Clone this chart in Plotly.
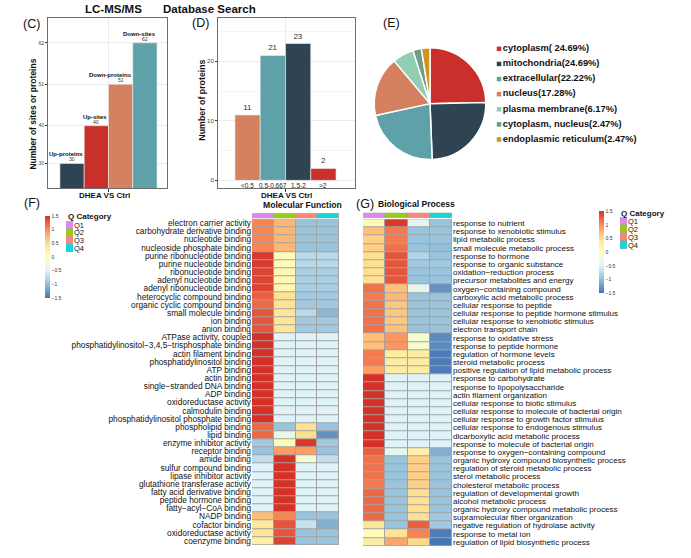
import plotly.graph_objects as go

W, H = 691, 558
FONT = "Liberation Sans, Arial, sans-serif"


def fx(px):
    return px / W


def fy(py):
    return 1 - py / H


# ---------------- data ----------------
# Panel C
c_names = ["Up-proteins", "Up-sites", "Down-proteins", "Down-sites"]
c_values = [30, 40, 51, 62]
c_colors = ["#2E4452", "#C9302C", "#D5805F", "#5FA1A9"]

# Panel D
d_bins = ["<0.5", "0.5-0.667", "1.5-2", ">2"]
d_values = [11, 21, 23, 2]
d_colors = ["#D5805F", "#5FA1A9", "#2E4452", "#C9302C"]

# Panel E
e_labels = ["cytoplasm", "mitochondria", "extracellular", "nucleus",
            "plasma membrane", "cytoplasm, nucleus", "endoplasmic reticulum"]
e_values = [24.69, 24.69, 22.22, 17.28, 6.17, 2.47, 2.47]
e_legend = ["cytoplasm( 24.69%)", "mitochondria(24.69%)", "extracellular(22.22%)",
            "nucleus(17.28%)", "plasma membrane(6.17%)", "cytoplasm, nucleus(2.47%)",
            "endoplasmic reticulum(2.47%)"]
e_colors = ["#C9302C", "#2E4452", "#5FA1A9", "#D5805F", "#93CDB3", "#6C9E83", "#D8901E"]

# Q categories
q_names = ["Q1", "Q2", "Q3", "Q4"]
q_colors = ["#DD88EE", "#99CC11", "#F8877B", "#14D5DB"]

# Panel F (Molecular Function)
f_terms = [
    "electron carrier activity", "carbohydrate derivative binding", "nucleotide binding",
    "nucleoside phosphate binding", "purine ribonucleotide binding", "purine nucleotide binding",
    "ribonucleotide binding", "adenyl nucleotide binding", "adenyl ribonucleotide binding",
    "heterocyclic compound binding", "organic cyclic compound binding", "small molecule binding",
    "ion binding", "anion binding", "ATPase activity, coupled",
    "phosphatidylinositol\u22123,4,5\u2212trisphosphate binding", "actin filament binding",
    "phosphatidylinositol binding", "ATP binding", "actin binding",
    "single\u2212stranded DNA binding", "ADP binding", "oxidoreductase activity",
    "calmodulin binding", "phosphatidylinositol phosphate binding", "phospholipid binding",
    "lipid binding", "enzyme inhibitor activity", "receptor binding", "amide binding",
    "sulfur compound binding", "lipase inhibitor activity", "glutathione transferase activity",
    "fatty acid derivative binding", "peptide hormone binding", "fatty\u2212acyl\u2212CoA binding",
    "NADP binding", "cofactor binding", "oxidoreductase activity", "coenzyme binding"]
f_q1 = [1.05, 1.05, 1.05, 1.05, 1.45, 1.45, 1.4, 1.4, 1.4, 1.25,
        1.2, 1.3, 1.3, 1.3, 1.5, 1.5, 1.5, 1.5, 1.5, 1.5,
        1.5, 1.5, 1.5, 1.5, 1.5, 1.2, 1.2, -0.9, -0.95, -0.7,
        -0.5, -0.5, -0.5, -0.5, -0.5, -0.5, 0.7, 0.35, 0.4, 0.25]
f_q2 = [0.75, 0.75, 0.75, 0.75, 0.08, 0.08, 0.12, 0.12, 0.15, 0.45,
        0.45, 0.4, 0.4, 0.4, -0.5, -0.5, -0.5, -0.5, -0.5, -0.5,
        -0.5, -0.5, -0.5, -0.5, -0.5, -0.95, -0.35, 0.05, 0.9, 1.5,
        1.5, 1.5, 1.5, 1.5, 1.5, 1.5, 1.05, 1.3, 1.3, 1.4]
f_q3 = [-0.95, -0.95, -0.95, -0.95, -0.75, -0.75, -0.85, -0.85, -0.85, -0.9,
        -0.9, -0.75, -0.9, -0.9, -0.5, -0.5, -0.5, -0.5, -0.5, -0.5,
        -0.5, -0.5, -0.5, -0.5, -0.5, 0.5, 0.5, 1.45, 0.9, -0.15,
        -0.5, -0.5, -0.5, -0.5, -0.5, -0.5, -0.95, -0.65, -0.95, -0.95]
f_q4 = [-0.95, -0.95, -0.95, -0.95, -0.75, -0.75, -0.85, -0.85, -0.85, -0.9,
        -0.9, -1.05, -0.9, -0.9, -0.5, -0.5, -0.5, -0.5, -0.5, -0.5,
        -0.5, -0.5, -0.5, -0.5, -0.5, -0.95, -1.3, -0.9, -0.95, -0.7,
        -0.5, -0.5, -0.5, -0.5, -0.5, -0.5, -0.95, -1.1, -0.95, -0.95]

# Panel G (Biological Process)
g_terms = [
    "response to nutrient", "response to xenobiotic stimulus", "lipid metabolic process",
    "small molecule metabolic process", "response to hormone", "response to organic substance",
    "oxidation\u2212reduction process", "precursor metabolites and energy",
    "oxygen\u2212containing compound", "carboxylic acid metabolic process",
    "cellular response to peptide", "cellular response to peptide hormone stimulus",
    "cellular response to xenobiotic stimulus", "electron transport chain",
    "response to oxidative stress", "response to peptide hormone",
    "regulation of hormone levels", "steroid metabolic process",
    "positive regulation of lipid metabolic process", "response to carbohydrate",
    "response to lipopolysaccharide", "actin filament organization",
    "cellular response to biotic stimulus", "cellular response to molecule of bacterial origin",
    "cellular response to growth factor stimulus", "cellular response to endogenous stimulus",
    "dicarboxylic acid metabolic process", "response to molecule of bacterial origin",
    "response to oxygen\u2212containing compound", "organic hydroxy compound biosynthetic process",
    "regulation of steroid metabolic process", "sterol metabolic process",
    "cholesterol metabolic process", "regulation of developmental growth",
    "alcohol metabolic process", "organic hydroxy compound metabolic process",
    "supramolecular fiber organization", "negative regulation of hydrolase activity",
    "response to metal ion", "regulation of lipid biosynthetic process"]
g_q1 = [0.1, 0.7, 0.6, 0.6, 0.5, 0.5, 0.5, 0.5, 1.15, 1.1,
        1.15, 1.15, 1.15, 1.15, 0.7, 0.7, 1.1, 1.1, 0.9, 1.5,
        1.5, 1.5, 1.5, 1.5, 1.5, 1.5, 1.5, 1.5, 1.25, 1.15,
        1.15, 1.15, 1.1, 1.2, 1.2, 1.2, 1.2, 0.4, 0.05, 0.3]
g_q2 = [1.45, 1.1, 1.1, 1.15, 1.3, 1.3, 1.3, 1.3, 0.7, 0.75,
        0.65, 0.65, 0.65, 0.7, 0.95, 0.95, 0.3, 0.3, 0.3, -0.5,
        -0.5, -0.5, -0.5, -0.5, -0.5, -0.5, -0.5, -0.5, -0.4, -0.95,
        -0.95, -0.95, -0.95, -0.95, -0.95, -0.95, -0.95, -0.95, 0.45, 0.85]
g_q3 = [-0.45, -0.95, -0.95, -0.95, -0.8, -0.9, -0.95, -0.95, -0.4, -0.95,
        -0.95, -0.95, -0.95, -0.95, -0.15, -0.15, 0.3, 0.3, 0.3, -0.5,
        -0.5, -0.5, -0.5, -0.5, -0.5, -0.5, -0.5, -0.5, 0.25, 0.6,
        0.6, 0.6, 0.6, 0.5, 0.5, 0.5, 0.5, 1.25, 1.05, 0.55]
g_q4 = [-0.95, -0.95, -0.95, -1.0, -0.95, -0.9, -0.95, -0.95, -1.3, -0.95,
        -0.95, -0.95, -0.95, -0.95, -1.35, -1.35, -1.45, -1.45, -1.45, -0.5,
        -0.5, -0.5, -0.5, -0.5, -0.5, -0.5, -0.5, -0.5, -1.1, -0.95,
        -0.95, -0.95, -0.95, -0.95, -0.95, -0.95, -0.9, -0.9, -1.45, -1.5]

heat_scale = [[0, "#4575B4"], [1 / 6, "#91BFDB"], [2 / 6, "#E0F3F8"], [3 / 6, "#FFFFBF"],
              [4 / 6, "#FEE090"], [5 / 6, "#FC8D59"], [1, "#D73027"]]
q_scale = []
for i, c in enumerate(q_colors):
    q_scale += [[i / 4, c], [(i + 1) / 4, c]]

fig = go.Figure()

# ---------------- Panel C ----------------
fig.add_trace(go.Bar(
    x=list(range(len(c_values))), y=c_values, width=1,
    marker=dict(color=c_colors, line=dict(color="#F2F2F2", width=0.6)),
    xaxis="x", yaxis="y", showlegend=False, hoverinfo="skip"))

# ---------------- Panel D ----------------
fig.add_trace(go.Bar(
    x=list(range(len(d_values))), y=d_values, width=1,
    marker=dict(color=d_colors, line=dict(color="#F2F2F2", width=0.6)),
    text=[str(v) for v in d_values], textposition="outside", cliponaxis=False,
    textfont=dict(size=8, color="#333333", family=FONT),
    xaxis="x2", yaxis="y2", showlegend=False, hoverinfo="skip"))

# ---------------- Panel E ----------------
fig.add_trace(go.Pie(
    labels=e_labels, values=e_values, sort=False, direction="clockwise",
    marker=dict(colors=e_colors, line=dict(color="white", width=1.5)),
    textinfo="none", hoverinfo="skip", showlegend=False,
    domain=dict(x=[fx(374), fx(486)], y=[fy(159), fy(47)])))

fig.add_trace(go.Scatter(
    x=[0] * len(e_legend), y=list(range(len(e_legend))), mode="markers+text",
    marker=dict(symbol="square", size=4.5, color=e_colors),
    text=e_legend, textposition="middle right", cliponaxis=False,
    textfont=dict(size=9.3, color="#111111", family=FONT, weight="bold"),
    xaxis="x3", yaxis="y3", showlegend=False, hoverinfo="skip"))

# ---------------- Panel F ----------------
f_z = [list(r) for r in zip(f_q1, f_q2, f_q3, f_q4)]
fig.add_trace(go.Heatmap(
    z=f_z, x=list(range(4)), y=list(range(len(f_terms))),
    colorscale=heat_scale, zmin=-1.5, zmax=1.5, xgap=1, ygap=1,
    colorbar=dict(x=fx(45), xanchor="left", y=fy(257), yanchor="middle",
                  len=82, lenmode="pixels", thickness=5, xpad=0, ypad=0,
                  outlinewidth=0, tickvals=[-1.5, -1, -0.5, 0, 0.5, 1, 1.5],
                  ticks="", tickfont=dict(size=5, color="#333", family=FONT)),
    xaxis="x4", yaxis="y4", hoverinfo="skip"))
fig.add_trace(go.Heatmap(
    z=[list(range(4))], x=list(range(4)), y=[0], colorscale=q_scale,
    zmin=-0.5, zmax=3.5, xgap=1, showscale=False,
    xaxis="x5", yaxis="y5", hoverinfo="skip"))
fig.add_trace(go.Heatmap(
    z=[[i] for i in range(4)], x=[0], y=list(range(4)), colorscale=q_scale,
    zmin=-0.5, zmax=3.5, ygap=1, showscale=False,
    xaxis="x8", yaxis="y8", hoverinfo="skip"))

# ---------------- Panel G ----------------
g_z = [list(r) for r in zip(g_q1, g_q2, g_q3, g_q4)]
fig.add_trace(go.Heatmap(
    z=g_z, x=list(range(4)), y=list(range(len(g_terms))),
    colorscale=heat_scale, zmin=-1.5, zmax=1.5, xgap=1, ygap=1,
    colorbar=dict(x=fx(599), xanchor="left", y=fy(252), yanchor="middle",
                  len=82, lenmode="pixels", thickness=5, xpad=0, ypad=0,
                  outlinewidth=0, tickvals=[-1.5, -1, -0.5, 0, 0.5, 1, 1.5],
                  ticks="", tickfont=dict(size=5, color="#333", family=FONT)),
    xaxis="x6", yaxis="y6", hoverinfo="skip"))
fig.add_trace(go.Heatmap(
    z=[list(range(4))], x=list(range(4)), y=[0], colorscale=q_scale,
    zmin=-0.5, zmax=3.5, xgap=1, showscale=False,
    xaxis="x7", yaxis="y7", hoverinfo="skip"))
fig.add_trace(go.Heatmap(
    z=[[i] for i in range(4)], x=[0], y=list(range(4)), colorscale=q_scale,
    zmin=-0.5, zmax=3.5, ygap=1, showscale=False,
    xaxis="x9", yaxis="y9", hoverinfo="skip"))

# ---------------- layout ----------------
frame = dict(showline=True, mirror=True, linecolor="#6E6E6E", linewidth=1, zeroline=False)
hidden = dict(visible=False, fixedrange=True)
grid = "#EBEBEB"

layout = dict(
    width=W, height=H, margin=dict(l=0, r=0, t=0, b=0),
    paper_bgcolor="white", plot_bgcolor="white",
    font=dict(family=FONT, color="#111111"),
    showlegend=False,
    xaxis=dict(domain=[fx(48), fx(167)], range=[-0.99, 3.91], anchor="y",
               tickvals=[1.5], ticktext=[""], ticks="outside", ticklen=3,
               tickcolor="#333", showgrid=True, gridcolor=grid, **frame),
    yaxis=dict(domain=[fy(188), fy(17)], range=[23.4, 68.6], anchor="x",
               tickvals=c_values, ticks="outside", ticklen=2, tickcolor="#333",
               tickfont=dict(size=5, color="#444"), showgrid=True, gridcolor=grid, **frame),
    xaxis2=dict(domain=[fx(218), fx(355)], range=[-1.17, 4.25], anchor="y2",
                tickvals=[1.5], ticktext=[""], ticks="outside", ticklen=3,
                tickcolor="#333", showgrid=True, gridcolor=grid, **frame),
    yaxis2=dict(domain=[fy(188), fy(17)], range=[-1.34, 27.3], anchor="x2",
                tickvals=[0, 10, 20], ticks="outside", ticklen=2, tickcolor="#333",
                tickfont=dict(size=6, color="#444"), showgrid=True, gridcolor=grid,
                minor=dict(tickvals=[5, 15, 25], showgrid=True, gridcolor="#F5F5F5", ticks=""),
                **frame),
    xaxis3=dict(domain=[fx(499), fx(680)], range=[0, 1], anchor="y3", **hidden),
    yaxis3=dict(domain=[fy(146.6), fy(40.4)], range=[6.5, -0.5], anchor="x3", **hidden),
    xaxis4=dict(domain=[fx(252), fx(339)], range=[-0.5, 3.5], anchor="y4", **hidden),
    yaxis4=dict(domain=[fy(546), fy(219)], range=[len(f_terms) - 0.5, -0.5], anchor="x4",
                tickmode="array", tickvals=list(range(len(f_terms))), ticktext=f_terms,
                ticks="", showgrid=False, zeroline=False, showline=False,
                tickfont=dict(size=8.3, color="#111", family=FONT), fixedrange=True),
    xaxis5=dict(domain=[fx(252), fx(339)], range=[-0.5, 3.5], anchor="y5", **hidden),
    yaxis5=dict(domain=[fy(218), fy(213)], range=[-0.5, 0.5], anchor="x5", **hidden),
    xaxis6=dict(domain=[fx(363), fx(452)], range=[-0.5, 3.5], anchor="y6", **hidden),
    yaxis6=dict(domain=[fy(547), fy(219)], range=[len(g_terms) - 0.5, -0.5], anchor="x6",
                side="right", tickmode="array", tickvals=list(range(len(g_terms))),
                ticktext=g_terms, ticks="", showgrid=False, zeroline=False, showline=False,
                tickfont=dict(size=8.1, color="#111", family=FONT), fixedrange=True),
    xaxis7=dict(domain=[fx(363), fx(452)], range=[-0.5, 3.5], anchor="y7", **hidden),
    yaxis7=dict(domain=[fy(217.5), fy(212.5)], range=[-0.5, 0.5], anchor="x7", **hidden),
    xaxis8=dict(domain=[fx(66), fx(73)], range=[-0.5, 0.5], anchor="y8", **hidden),
    yaxis8=dict(domain=[fy(252), fy(221)], range=[3.5, -0.5], anchor="x8", side="right",
                tickmode="array", tickvals=list(range(4)), ticktext=q_names, ticks="",
                showgrid=False, zeroline=False, showline=False,
                tickfont=dict(size=7.5, color="#111", family=FONT), fixedrange=True),
    xaxis9=dict(domain=[fx(620), fx(627)], range=[-0.5, 0.5], anchor="y9", **hidden),
    yaxis9=dict(domain=[fy(249), fy(217)], range=[3.5, -0.5], anchor="x9", side="right",
                tickmode="array", tickvals=list(range(4)), ticktext=q_names, ticks="",
                showgrid=False, zeroline=False, showline=False,
                tickfont=dict(size=7.5, color="#111", family=FONT), fixedrange=True),
)
fig.update_layout(**layout)

# gray cell borders behind heatmaps
shapes = []
for xr, yr, nx, ny in [("x4", "y4", 4, len(f_terms)), ("x6", "y6", 4, len(g_terms)),
                       ("x5", "y5", 4, 1), ("x7", "y7", 4, 1),
                       ("x8", "y8", 1, 4), ("x9", "y9", 1, 4)]:
    shapes.append(dict(type="rect", xref=xr, yref=yr, x0=-0.5, x1=nx - 0.5,
                       y0=-0.5, y1=ny - 0.5, fillcolor="#A3A3A3",
                       line=dict(color="#A3A3A3", width=1), layer="below"))
fig.update_layout(shapes=shapes)

ann = []


def txt(x, y, s, size, bold=False, xanchor="center", yanchor="middle", angle=0, color="#111111"):
    ann.append(dict(xref="paper", yref="paper", x=fx(x), y=fy(y), text=s, showarrow=False,
                    xanchor=xanchor, yanchor=yanchor, textangle=angle, borderpad=0,
                    font=dict(size=size, color=color, family=FONT,
                              weight="bold" if bold else "normal")))


# titles and panel letters
txt(113.5, 8, "LC-MS/MS", 11.5, bold=True)
txt(209, 8, "Database Search", 11.5, bold=True)
txt(32, 23, "(C)", 12.5)
txt(201, 22, "(D)", 12.5)
txt(391, 22, "(E)", 12.5)
txt(32, 203, "(F)", 12.5)
txt(365, 204, "(G)", 12.5)

# axis titles
txt(33, 114, "Number of sites or proteins", 8.5, bold=True, angle=-90)
txt(202, 100, "Number of proteins", 8.8, bold=True, angle=-90)
txt(104, 195, "DHEA VS Ctrl", 8, bold=True)
txt(286, 195, "DHEA VS Ctrl", 8, bold=True)
txt(302, 205, "Molecular Function", 8.6, bold=True)
txt(377, 204, "Biological Process", 8.6, bold=True, xanchor="left")
txt(67, 216, "Q Category", 8, bold=True, xanchor="left")
txt(620, 213, "Q Category", 8, bold=True, xanchor="left")

# C bar labels
for i, (n, v) in enumerate(zip(c_names, c_values)):
    ann.append(dict(xref="x", yref="y", x=i + 0.5, y=v, text=n, showarrow=False,
                    xanchor="right", yanchor="bottom", yshift=5, borderpad=0,
                    font=dict(size=6, color="#111111", family=FONT, weight="bold")))
    ann.append(dict(xref="x", yref="y", x=i, y=v, text=str(v), showarrow=False,
                    xanchor="center", yanchor="bottom", yshift=0, borderpad=0,
                    font=dict(size=5, color="#333333", family=FONT)))

# D category labels
for i, b in enumerate(d_bins):
    ann.append(dict(xref="x2", yref="y2", x=i, y=0, text=b, showarrow=False,
                    xanchor="center", yanchor="top", yshift=-0.5, borderpad=0,
                    font=dict(size=6.5, color="#222222", family=FONT)))

fig.update_layout(annotations=ann)
fig.write_html("out.html", config={"displayModeBar": False},
               post_script="document.body.style.margin='0px';document.body.style.overflow='hidden';")
